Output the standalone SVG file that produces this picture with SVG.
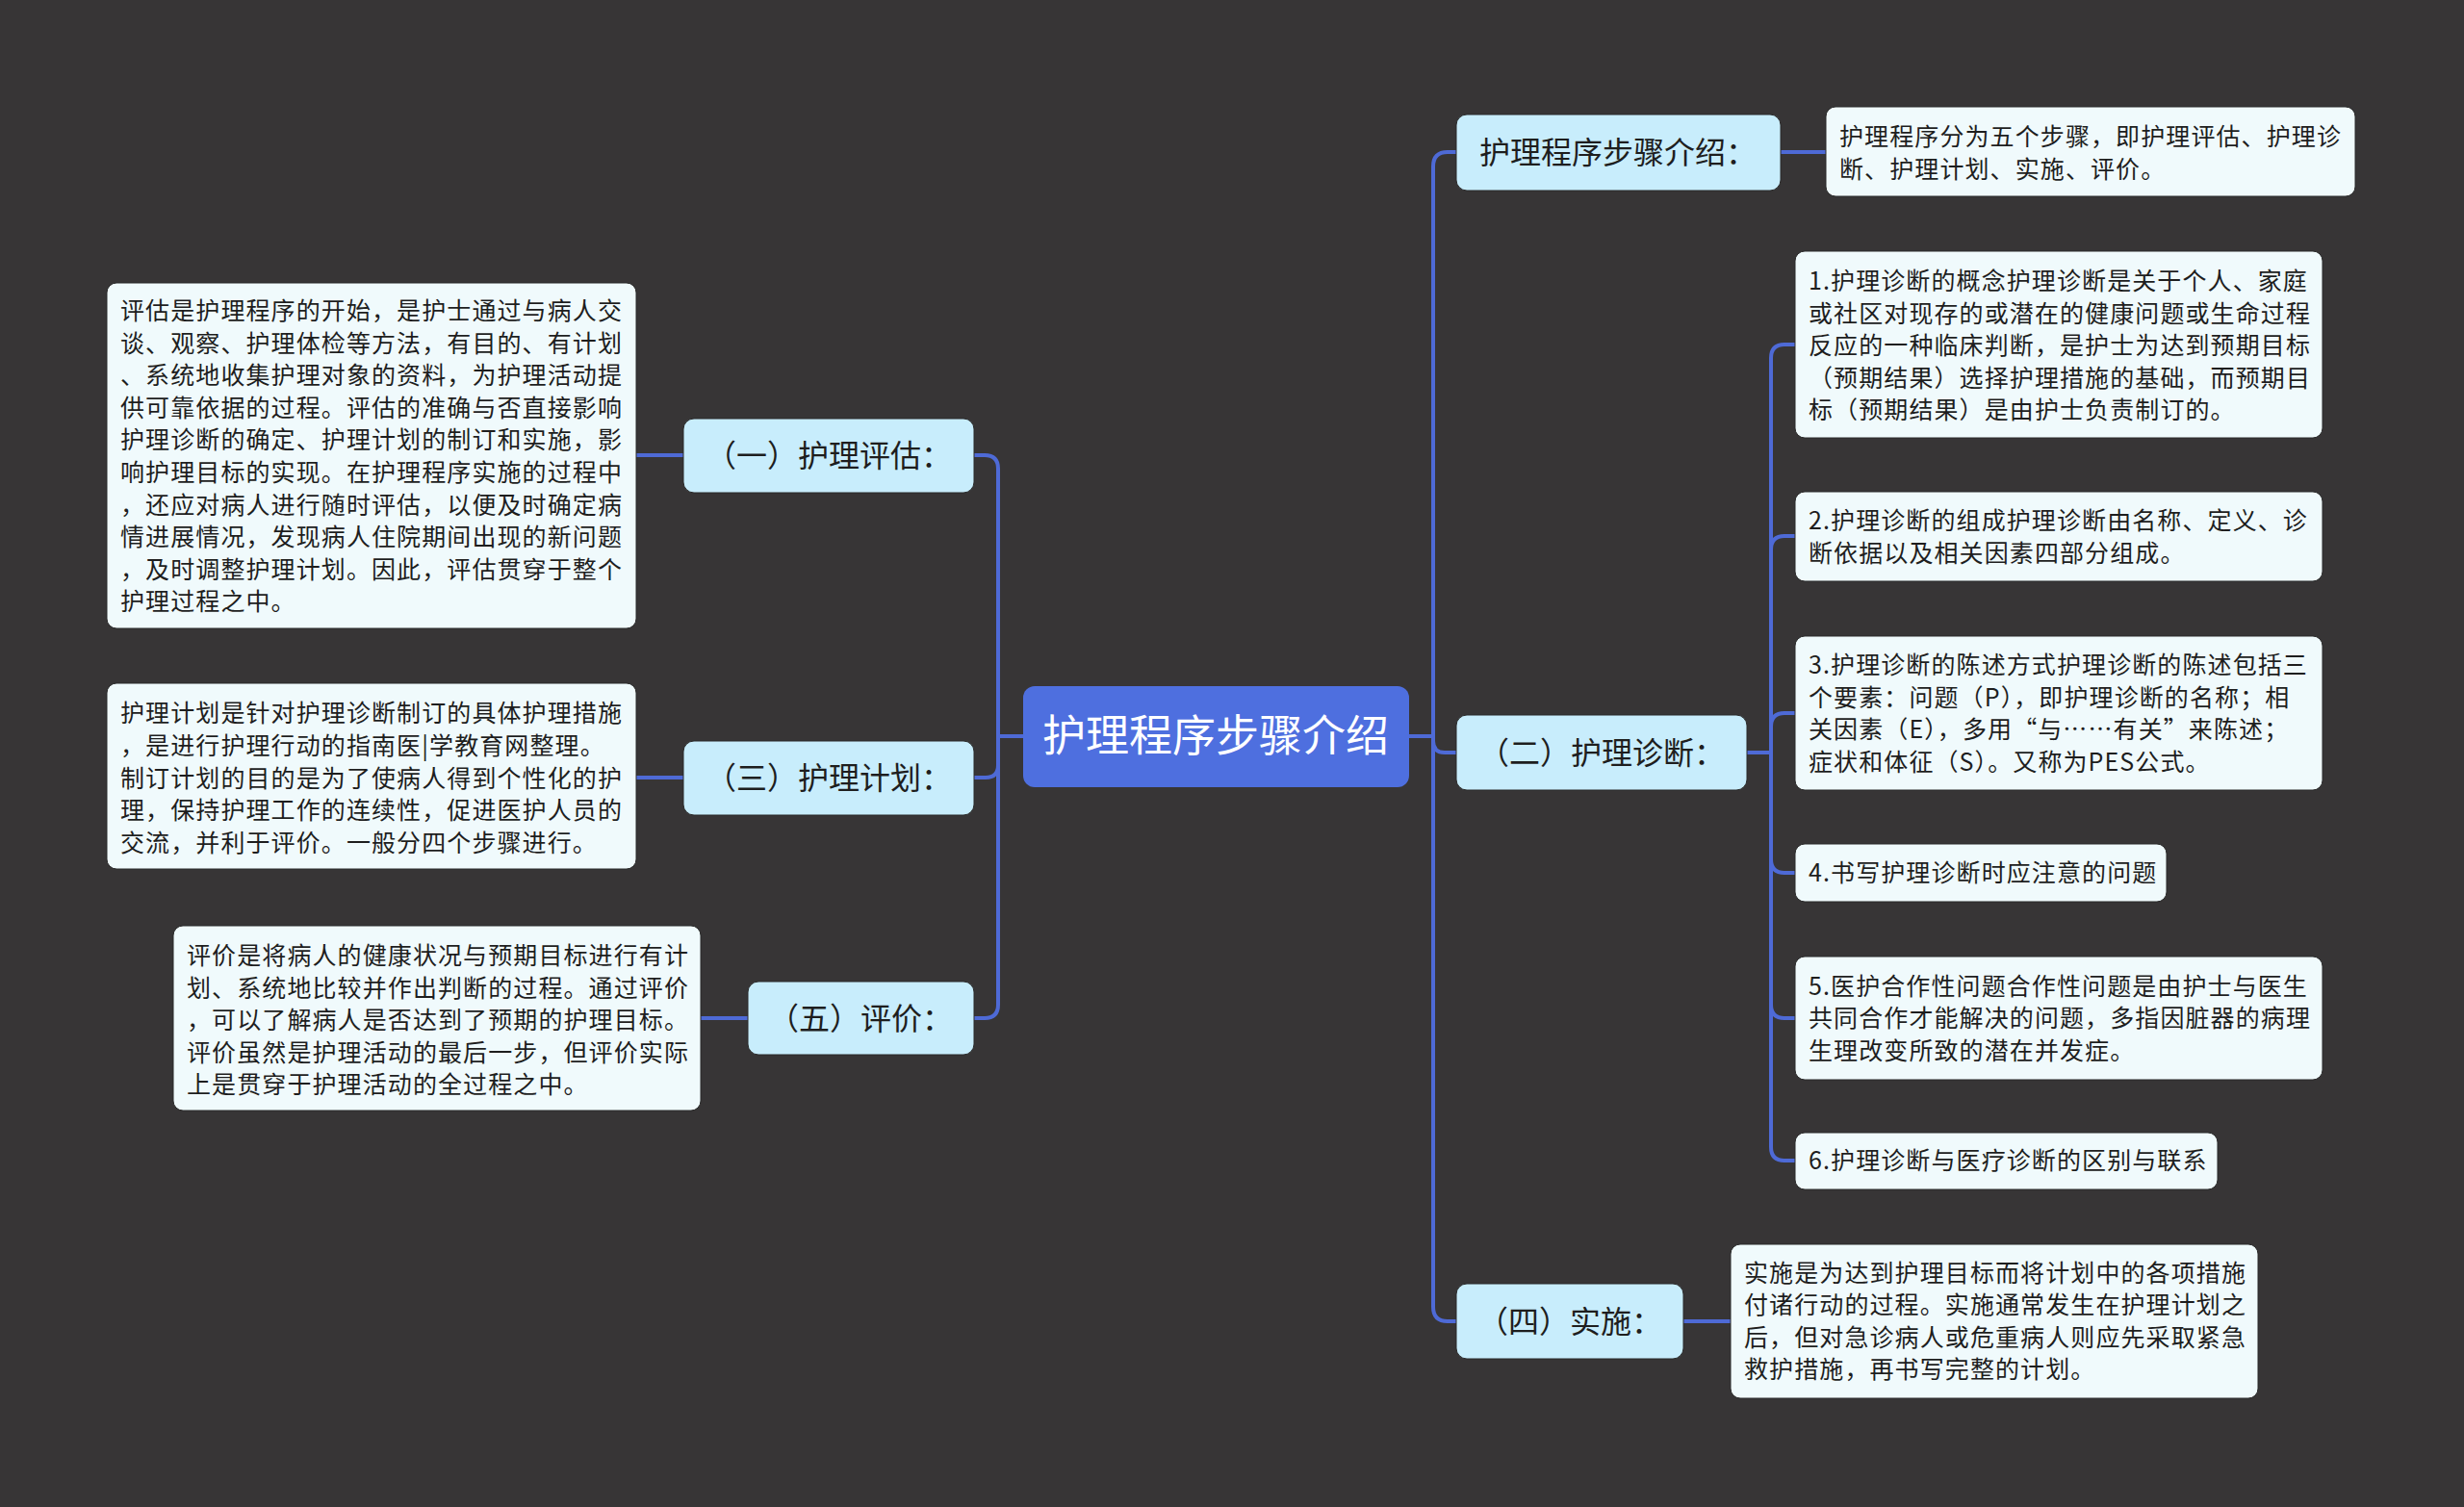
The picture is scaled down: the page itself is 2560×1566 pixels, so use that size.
<svg xmlns="http://www.w3.org/2000/svg" width="2560" height="1566" viewBox="0 0 2560 1566">
<style>
.bg{fill:#373536}
.root{fill:#4E6FDF}
.br{fill:#C8EDFC;stroke:#2a2a2a;stroke-width:1}
.lf{fill:#F0FAFC;stroke:#2a2a2a;stroke-width:1}
.ln{fill:none;stroke:#4E6AD6;stroke-width:4;stroke-linecap:round}
.t{font-family:"Noto Sans CJK SC","Noto Sans",sans-serif;fill:#1e1e1e}
.lt{font-size:25px;letter-spacing:1.1px}
.bt{font-size:32px;text-anchor:middle}
.rt{font-size:45px;fill:#ffffff;text-anchor:middle}
</style>
<rect class="bg" x="0" y="0" width="2560" height="1566"/>

<g id="connectors">
  <path class="ln" d="M1063,765 H1037 V487 Q1037,473 1023,473 H1012"/>
  <path class="ln" d="M1063,765 H1037 V795 Q1037,808 1024,808 H1012"/>
  <path class="ln" d="M1063,765 H1037 V1044 Q1037,1058 1023,1058 H1012"/>
  <path class="ln" d="M1464,765 H1489 V173 Q1489,158 1504,158 H1513"/>
  <path class="ln" d="M1464,765 H1489 V770 Q1489,782 1501,782 H1513"/>
  <path class="ln" d="M1464,765 H1489 V1358 Q1489,1373 1504,1373 H1513"/>
  <path class="ln" d="M710,473 H661"/>
  <path class="ln" d="M710,808 H661"/>
  <path class="ln" d="M777,1058 H728"/>
  <path class="ln" d="M1850,158 H1897"/>
  <path class="ln" d="M1749,1373 H1798"/>
  <path class="ln" d="M1815,782 H1840 V372 Q1840,358 1854,358 H1865"/>
  <path class="ln" d="M1815,782 H1840 V571 Q1840,557 1854,557 H1865"/>
  <path class="ln" d="M1815,782 H1840 V755 Q1840,741 1854,741 H1865"/>
  <path class="ln" d="M1815,782 H1840 V893 Q1840,907 1854,907 H1865"/>
  <path class="ln" d="M1815,782 H1840 V1044 Q1840,1058 1854,1058 H1865"/>
  <path class="ln" d="M1815,782 H1840 V1192 Q1840,1206 1854,1206 H1865"/>
</g>

<g id="root">
  <rect class="root" x="1063" y="713" width="401" height="105" rx="12"/>
  <text class="t rt" x="1263" y="781">护理程序步骤介绍</text>
</g>

<g id="b1">
  <rect class="br" x="710" y="435" width="302" height="77" rx="11"/>
  <text class="t bt" x="861" y="485">（一）护理评估：</text>
</g>
<g id="b3">
  <rect class="br" x="710" y="770" width="302" height="77" rx="11"/>
  <text class="t bt" x="861" y="820">（三）护理计划：</text>
</g>
<g id="b5">
  <rect class="br" x="777" y="1020" width="235" height="76" rx="11"/>
  <text class="t bt" x="894" y="1070">（五）评价：</text>
</g>
<g id="b0">
  <rect class="br" x="1513" y="119" width="337" height="79" rx="11"/>
  <text class="t bt" x="1681" y="170">护理程序步骤介绍：</text>
</g>
<g id="b2">
  <rect class="br" x="1513" y="743" width="302" height="78" rx="11"/>
  <text class="t bt" x="1664" y="794">（二）护理诊断：</text>
</g>
<g id="b4">
  <rect class="br" x="1513" y="1334" width="236" height="78" rx="11"/>
  <text class="t bt" x="1631" y="1385">（四）实施：</text>
</g>

<g id="leaf1">
  <rect class="lf" x="111" y="294" width="550" height="359" rx="10"/>
  <text class="t lt" x="125" y="332">评估是护理程序的开始，是护士通过与病人交</text>
  <text class="t lt" x="125" y="366">谈、观察、护理体检等方法，有目的、有计划</text>
  <text class="t lt" x="125" y="399">、系统地收集护理对象的资料，为护理活动提</text>
  <text class="t lt" x="125" y="433">供可靠依据的过程。评估的准确与否直接影响</text>
  <text class="t lt" x="125" y="466">护理诊断的确定、护理计划的制订和实施，影</text>
  <text class="t lt" x="125" y="500">响护理目标的实现。在护理程序实施的过程中</text>
  <text class="t lt" x="125" y="534">，还应对病人进行随时评估，以便及时确定病</text>
  <text class="t lt" x="125" y="567">情进展情况，发现病人住院期间出现的新问题</text>
  <text class="t lt" x="125" y="601">，及时调整护理计划。因此，评估贯穿于整个</text>
  <text class="t lt" x="125" y="634">护理过程之中。</text>
</g>
<g id="leaf3">
  <rect class="lf" x="111" y="710" width="550" height="193" rx="10"/>
  <text class="t lt" x="125" y="750">护理计划是针对护理诊断制订的具体护理措施</text>
  <text class="t lt" x="125" y="784">，是进行护理行动的指南医|学教育网整理。</text>
  <text class="t lt" x="125" y="818">制订计划的目的是为了使病人得到个性化的护</text>
  <text class="t lt" x="125" y="851">理，保持护理工作的连续性，促进医护人员的</text>
  <text class="t lt" x="125" y="885">交流，并利于评价。一般分四个步骤进行。</text>
</g>
<g id="leaf5">
  <rect class="lf" x="180" y="962" width="548" height="192" rx="10"/>
  <text class="t lt" x="194" y="1002">评价是将病人的健康状况与预期目标进行有计</text>
  <text class="t lt" x="194" y="1036">划、系统地比较并作出判断的过程。通过评价</text>
  <text class="t lt" x="194" y="1069">，可以了解病人是否达到了预期的护理目标。</text>
  <text class="t lt" x="194" y="1103">评价虽然是护理活动的最后一步，但评价实际</text>
  <text class="t lt" x="194" y="1136">上是贯穿于护理活动的全过程之中。</text>
</g>

<g id="leaf0">
  <rect class="lf" x="1897" y="111" width="550" height="93" rx="10"/>
  <text class="t lt" x="1911" y="151">护理程序分为五个步骤，即护理评估、护理诊</text>
  <text class="t lt" x="1911" y="185">断、护理计划、实施、评价。</text>
</g>
<g id="leaf2-1">
  <rect class="lf" x="1865" y="261" width="548" height="194" rx="10"/>
  <text class="t lt" x="1879" y="301">1.护理诊断的概念护理诊断是关于个人、家庭</text>
  <text class="t lt" x="1879" y="335">或社区对现存的或潜在的健康问题或生命过程</text>
  <text class="t lt" x="1879" y="368">反应的一种临床判断，是护士为达到预期目标</text>
  <text class="t lt" x="1879" y="402">（预期结果）选择护理措施的基础，而预期目</text>
  <text class="t lt" x="1879" y="435">标（预期结果）是由护士负责制订的。</text>
</g>
<g id="leaf2-2">
  <rect class="lf" x="1865" y="511" width="548" height="93" rx="10"/>
  <text class="t lt" x="1879" y="550">2.护理诊断的组成护理诊断由名称、定义、诊</text>
  <text class="t lt" x="1879" y="584">断依据以及相关因素四部分组成。</text>
</g>
<g id="leaf2-3">
  <rect class="lf" x="1865" y="661" width="548" height="160" rx="10"/>
  <text class="t lt" x="1879" y="700">3.护理诊断的陈述方式护理诊断的陈述包括三</text>
  <text class="t lt" x="1879" y="734">个要素：问题（P），即护理诊断的名称；相</text>
  <text class="t lt" x="1879" y="767">关因素（E），多用“与……有关”来陈述；</text>
  <text class="t lt" x="1879" y="801">症状和体征（S）。又称为PES公式。</text>
</g>
<g id="leaf2-4">
  <rect class="lf" x="1865" y="877" width="386" height="60" rx="10"/>
  <text class="t lt" x="1879" y="916">4.书写护理诊断时应注意的问题</text>
</g>
<g id="leaf2-5">
  <rect class="lf" x="1865" y="994" width="548" height="128" rx="10"/>
  <text class="t lt" x="1879" y="1034">5.医护合作性问题合作性问题是由护士与医生</text>
  <text class="t lt" x="1879" y="1067">共同合作才能解决的问题，多指因脏器的病理</text>
  <text class="t lt" x="1879" y="1101">生理改变所致的潜在并发症。</text>
</g>
<g id="leaf2-6">
  <rect class="lf" x="1865" y="1177" width="439" height="59" rx="10"/>
  <text class="t lt" x="1879" y="1215">6.护理诊断与医疗诊断的区别与联系</text>
</g>
<g id="leaf4">
  <rect class="lf" x="1798" y="1293" width="548" height="160" rx="10"/>
  <text class="t lt" x="1812" y="1332">实施是为达到护理目标而将计划中的各项措施</text>
  <text class="t lt" x="1812" y="1365">付诸行动的过程。实施通常发生在护理计划之</text>
  <text class="t lt" x="1812" y="1399">后，但对急诊病人或危重病人则应先采取紧急</text>
  <text class="t lt" x="1812" y="1432">救护措施，再书写完整的计划。</text>
</g>
</svg>
